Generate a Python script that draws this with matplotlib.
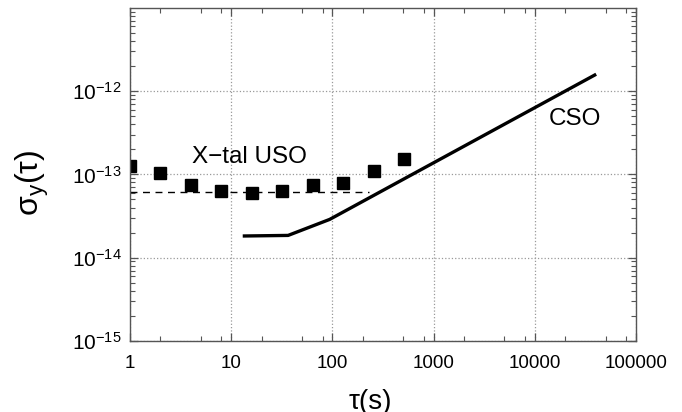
import matplotlib
matplotlib.use("Agg")
import matplotlib.pyplot as plt
from matplotlib.ticker import LogLocator, FixedLocator, FixedFormatter, NullFormatter

plt.rcParams['font.family'] = ['Liberation Sans', 'DejaVu Sans']
plt.rcParams['mathtext.fontset'] = 'custom'
plt.rcParams['mathtext.rm'] = 'Liberation Sans'
plt.rcParams['mathtext.it'] = 'Liberation Sans:italic'

# X-tal USO measured points
uso_tau = [1, 2, 4, 8, 16, 32, 64, 128, 256, 512]
uso_sigma = [1.26e-13, 1.03e-13, 7.4e-14, 6.36e-14, 5.9e-14, 6.3e-14,
             7.4e-14, 7.8e-14, 1.10e-13, 1.53e-13]

# dashed floor line
floor_tau = [1, 230]
floor_sigma = [6.08e-14, 6.08e-14]

# CSO curve
cso_tau = [13, 36.5, 94, 40400]
cso_sigma = [1.82e-14, 1.85e-14, 2.88e-14, 1.59e-12]

xticks = [1, 10, 100, 1000, 10000, 100000]
xticklabels = ['1', '10', '100', '1000', '10000', '100000']
yticks = [1e-15, 1e-14, 1e-13, 1e-12]

fig = plt.figure(figsize=(6.82, 4.12), dpi=100)
ax = fig.add_axes([130/682, 1-341/412, (636-130)/682, (341-7.7)/412])
ax.set_xscale('log')
ax.set_yscale('log')
ax.set_xlim(1, 100000)
ax.set_ylim(1e-15, 1e-11)

ax.plot(floor_tau, floor_sigma, color='black', lw=1.0, ls=(0, (5, 4)))
ax.plot(uso_tau, uso_sigma, ls='none', marker='s', ms=9, color='black')
ax.plot(cso_tau, cso_sigma, color='black', lw=2.4, solid_capstyle='butt')

ax.grid(True, which='major', ls=':', color='#999999', lw=0.9)

ax.xaxis.set_major_locator(FixedLocator(xticks))
ax.xaxis.set_major_formatter(FixedFormatter(xticklabels))
ax.xaxis.set_minor_locator(LogLocator(base=10, subs=[2, 5, 8]))
ax.xaxis.set_minor_formatter(NullFormatter())
ax.yaxis.set_major_locator(FixedLocator(yticks))
ax.yaxis.set_minor_locator(LogLocator(base=10, subs=range(2, 10), numticks=10))
ax.yaxis.set_minor_formatter(NullFormatter())

ax.tick_params(which='both', direction='in', top=True, right=True, colors='#555555',
               labelcolor='black', labelsize=13.5)
ax.tick_params(which='major', length=6, width=0.9)
ax.tick_params(which='minor', length=3.5, width=0.8)
ax.tick_params(axis='x', pad=10)
ax.tick_params(axis='y', pad=6, labelsize=15)
for s in ax.spines.values():
    s.set_color('#555555')
    s.set_linewidth(1.0)

ax.text(15.3, 1.62e-13, 'X\u2212tal USO', fontsize=17.5, ha='center', va='center')
ax.text(25200, 4.6e-13, 'CSO', fontsize=17.5, ha='center', va='center')

ax.set_ylabel('\u03c3$_\\mathregular{y}$(\u03c4)', fontsize=23, va='center')
ax.yaxis.set_label_coords(-98/506, 0.475)
ax.set_xlabel('\u03c4(s)', fontsize=20)
ax.xaxis.set_label_coords(0.476, -48/333)

fig.savefig('out.png', dpi=100)
